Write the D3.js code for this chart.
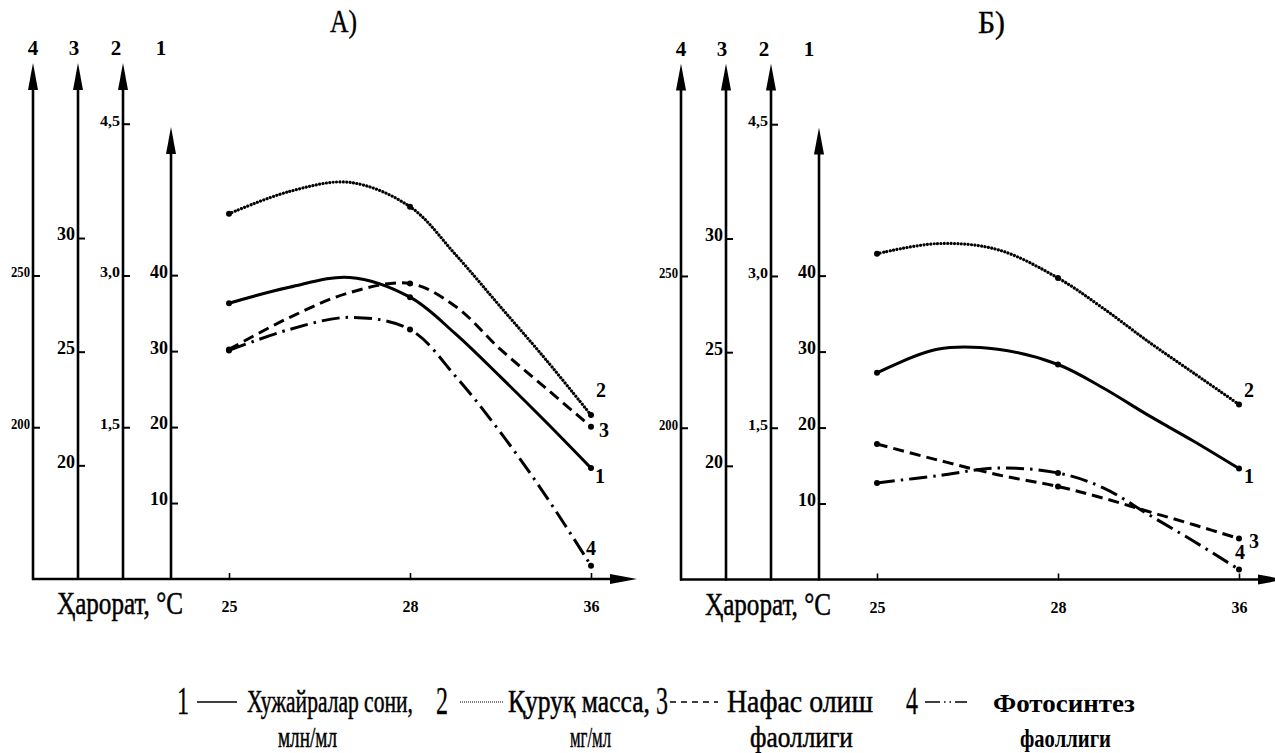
<!DOCTYPE html>
<html><head><meta charset="utf-8">
<script src="https://cdn.jsdelivr.net/npm/d3@7"></script>
<style>body{margin:0;background:#fff} svg{display:block}</style>
</head><body>
<svg id="c" width="1275" height="753"></svg>
<script>
// ---------- DATA ----------
const tempTicks = [25, 28, 36];
const sampleTemps = [25, 26, 27, 28, 30, 32, 34, 36];
const markerTemps = [25, 28, 36];

// Panel A
const A_cells = [36.3, 38.4, 39.7, 37.1, 32.3, 26.6, 20.7, 14.6];          // axis 1
const A_dryMass = [3.61, 3.83, 3.92, 3.68, 3.21, 2.69, 2.17, 1.62];       // axis 2
const A_respiration = [25.1, 26.5, 27.6, 28.0, 27.0, 25.1, 23.4, 21.7];   // axis 3
const A_photosynthesis = [225.3, 232.2, 236.2, 232.2, 216.9, 198.3, 177.4, 154.4]; // axis 4

// Panel B
const B_cells = [27.2, 30.3, 30.3, 28.3, 25.2, 21.6, 18.2, 14.6];
const B_dryMass = [3.22, 3.32, 3.26, 2.98, 2.68, 2.35, 2.04, 1.73];
const B_respiration = [20.96, 20.26, 19.61, 19.09, 18.58, 17.99, 17.41, 16.80];
const B_photosynthesis = [181.8, 184.2, 186.7, 185.1, 180.2, 171.4, 162.6, 153.3];

const axis1Ticks = [10, 20, 30, 40];
const axis2Ticks = [1.5, 3.0, 4.5];
const axis3Ticks = [20, 25, 30];
const axis4Ticks = [200, 250];
const axisIds = ["4", "3", "2", "1"];
const panelTitles = ["А)", "Б)"];
const seriesNums = ["1", "2", "3", "4"];
const legendLine1 = ["Хужайралар сони,", "Қуруқ масса,", "Нафас олиш", "Фотосинтез"];
const legendLine2 = ["млн/мл", "мг/мл", "фаоллиги", "фаоллиги"];
const xTitle = "Ҳарорат, °C";

// ---------- LAYOUT ----------
const svg = d3.select("#c");
const SERIF = "'Liberation Serif', 'Times New Roman', serif";
const Y0 = 579;
const x = d3.scaleLinear().domain([25, 28, 36]).range([229, 410, 591]);
const y1 = d3.scaleLinear().domain([0, 59.5]).range([Y0, 127]);
const y2 = d3.scaleLinear().domain([0, 5.1]).range([Y0, 63]);
const y3 = d3.scaleLinear().domain([15, 37.7]).range([Y0, 63]);
const y4 = d3.scaleLinear().domain([150, 320]).range([Y0, 63]);
const commaFmt = d => d3.format(".1f")(d).replace(".", ",");

// place text at (x,y) and squeeze horizontally to a target width
function fitText(parent, str, px, py, width, size, weight, thick) {
  const t = parent.append("text").attr("font-family", SERIF).attr("font-size", size)
    .attr("font-weight", weight || "normal").text(str);
  if (thick) t.attr("stroke", "#000").attr("stroke-width", thick);
  const len = t.node().getComputedTextLength();
  const s = width / len;
  t.attr("transform", `translate(${px},${py}) scale(${s},1)`);
  return t;
}

const styles = [
  {w: 3, dash: null, cap: "round"},
  {w: 3.2, dash: "0.01 3.4", cap: "round"},
  {w: 3, dash: "11 6", cap: "butt"},
  {w: 3, dash: "18 6 2.5 6", cap: "butt"}
];

function drawPanel(g, data, title, labelOffsets) {
  const axes = [
    {id: axisIds[0], x: 33, scale: y4, ticks: axis4Ticks, fmt: d => String(d), fs: 15, tl: 19, lx: 33},
    {id: axisIds[1], x: 78, scale: y3, ticks: axis3Ticks, fmt: d => String(d), fs: 19, tl: 18, lx: 74},
    {id: axisIds[2], x: 123, scale: y2, ticks: axis2Ticks, fmt: commaFmt, fs: 15, tl: 20, lx: 116},
    {id: axisIds[3], x: 171, scale: y1, ticks: axis1Ticks, fmt: d => String(d), fs: 19, tl: 18, lx: 161}
  ];
  axes.forEach(a => {
    const top = a.scale.range()[1];
    g.append("line").attr("x1", a.x).attr("x2", a.x).attr("y1", Y0 + 1).attr("y2", top + 20)
      .attr("stroke", "#000").attr("stroke-width", 2.6);
    g.append("path").attr("d", `M${a.x},${top} L${a.x - 5},${top + 27} L${a.x + 5},${top + 27}Z`).attr("fill", "#000");
    const ax = g.append("g").attr("transform", `translate(${a.x},0)`)
      .call(d3.axisRight(a.scale).tickValues(a.ticks).tickSize(7).tickFormat(a.fmt));
    ax.select(".domain").remove();
    ax.attr("font-family", SERIF).attr("font-size", a.fs).attr("font-weight", "bold");
    ax.selectAll(".tick line").attr("stroke", "#000").attr("stroke-width", 2);
    ax.selectAll(".tick text").attr("x", -3).attr("dy", "0.1em").attr("text-anchor", "end")
      .attr("fill", "#000").attr("textLength", a.tl).attr("lengthAdjust", "spacingAndGlyphs");
    g.append("text").attr("x", a.lx).attr("y", 55).attr("text-anchor", "middle")
      .attr("font-family", SERIF).attr("font-weight", "bold").attr("font-size", 21).text(a.id);
  });

  // x axis
  g.append("line").attr("x1", 32).attr("x2", 615).attr("y1", Y0).attr("y2", Y0)
    .attr("stroke", "#000").attr("stroke-width", 2.6);
  g.append("path").attr("d", `M637,${Y0} L610,${Y0 - 5} L610,${Y0 + 5}Z`).attr("fill", "#000");
  const xa = g.append("g").attr("transform", `translate(0,${Y0})`)
    .call(d3.axisBottom(x).tickValues(tempTicks).tickSize(-6).tickFormat(d => String(d)));
  xa.select(".domain").remove();
  xa.attr("font-family", SERIF).attr("font-size", 17).attr("font-weight", "bold");
  xa.selectAll(".tick line").attr("stroke", "#000").attr("stroke-width", 1.6);
  xa.selectAll(".tick text").attr("y", 33).attr("dy", 0).attr("fill", "#000")
    .attr("textLength", 16).attr("lengthAdjust", "spacingAndGlyphs");
  fitText(g, xTitle, 57, 614, 126, 32, "normal", 0.5);

  // title
  fitText(g, title, 330, 32, 27, 31, "normal", 0.4);

  // curves
  const scales = [y1, y2, y3, y4];
  data.forEach((vals, si) => {
    const sc = scales[si], st = styles[si];
    const line = d3.line().x((d, i) => x(sampleTemps[i])).y(d => sc(d)).curve(d3.curveCatmullRom.alpha(0.5));
    g.append("path").datum(vals).attr("d", line).attr("fill", "none").attr("stroke", "#000")
      .attr("stroke-width", st.w).attr("stroke-linecap", st.cap)
      .attr("stroke-dasharray", st.dash);
    g.selectAll(null).data(markerTemps).enter().append("circle")
      .attr("cx", t => x(t)).attr("cy", t => sc(vals[sampleTemps.indexOf(t)])).attr("r", 3).attr("fill", "#000");
    const last = vals[vals.length - 1];
    g.append("text").attr("x", x(36) + labelOffsets[si][0]).attr("y", sc(last) + labelOffsets[si][1])
      .attr("text-anchor", "middle").attr("font-family", SERIF).attr("font-weight", "bold")
      .attr("font-size", 20).text(seriesNums[si]);
  });
}

drawPanel(svg.append("g"), [A_cells, A_dryMass, A_respiration, A_photosynthesis], panelTitles[0],
  [[9, 15], [10, -18], [13, 10], [0, -11]]);
drawPanel(svg.append("g").attr("transform", "translate(648,0.5)"),
  [B_cells, B_dryMass, B_respiration, B_photosynthesis], panelTitles[1],
  [[10, 14], [10, -7], [15, 9], [1, -10]]);

// ---------- LEGEND ----------
const lg = svg.append("g");
const legendItems = [
  {nx: 177, lx1: 197, lx2: 237, tx: 247, tw: 166, t2x: 278, t2w: 59, bold: false},
  {nx: 436, lx1: 460, lx2: 503, tx: 508, tw: 142, t2x: 570, t2w: 41, bold: false},
  {nx: 656, lx1: 670, lx2: 718, tx: 727, tw: 146, t2x: 750, t2w: 103, bold: false},
  {nx: 906, lx1: 925, lx2: 967, tx: 993, tw: 142, t2x: 1020, t2w: 91, bold: true}
];
const legendDash = [null, "1 1", "6 5", "15 4 1.5 4 1.5 4"];
legendItems.forEach((it, i) => {
  fitText(lg, seriesNums[i], it.nx, 714, 12, 40, "normal", 0.3);
  lg.append("line").attr("x1", it.lx1).attr("x2", it.lx2).attr("y1", 702).attr("y2", 702)
    .attr("stroke", "#000").attr("stroke-width", i === 1 ? 1 : 1.6).attr("stroke-dasharray", legendDash[i]);
  fitText(lg, legendLine1[i], it.tx, 712, it.tw, it.bold ? 26 : 32, it.bold ? "bold" : "normal", it.bold ? 0 : 0.5);
  fitText(lg, legendLine2[i], it.t2x, 747, it.t2w, it.bold ? 26 : 30, it.bold ? "bold" : "normal", it.bold ? 0 : 0.5);
});
</script>
</body></html>
